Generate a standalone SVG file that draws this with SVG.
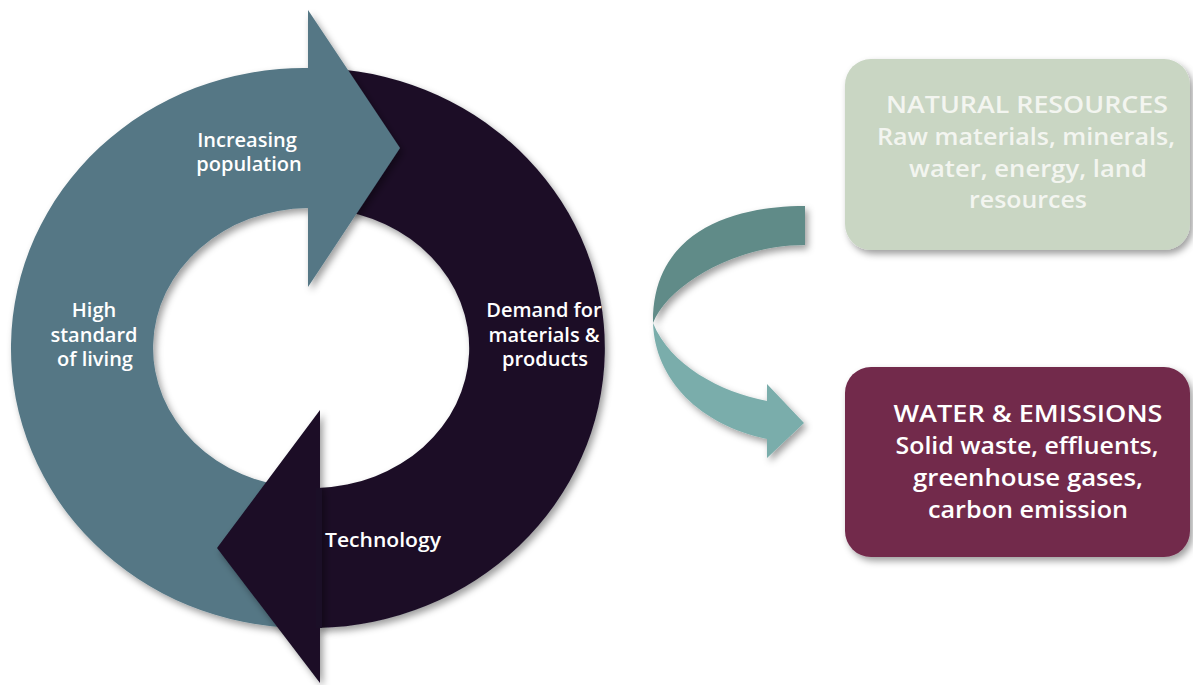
<svg xmlns="http://www.w3.org/2000/svg" width="1193" height="685" viewBox="0 0 1193 685">
<defs>
  <filter id="sh" x="-10%" y="-10%" width="125%" height="125%">
    <feDropShadow dx="3" dy="4" stdDeviation="3.5" flood-color="#000" flood-opacity="0.38"/>
  </filter>
  <style>
    .lbl{font-family:"Open Sans","Liberation Sans",sans-serif;font-weight:600;font-size:20px;fill:#ffffff;text-anchor:middle}
    .box{font-family:"Open Sans","Liberation Sans",sans-serif;font-size:24px;font-weight:600;text-anchor:middle}
    .teal{fill:#547785}
    .dark{fill:#1b0f27}
  </style>
</defs>
<rect width="1193" height="685" fill="#ffffff"/>

<g id="cycle">
  <g id="demand-band">
    <path class="dark" filter="url(#sh)" d="M 330 68.6 A 293 280 0 0 1 318 628 L 318 488 A 157 140 0 0 0 330 209 Z"/>
  </g>
  <g id="increasing-population">
    <path class="teal" filter="url(#sh)" d="M 308 68 A 293 280 0 0 0 300 628 L 300 487.7 A 157 140 0 0 1 308 208 L 308 287 L 400 148 L 308 10 Z"/>
    <text class="lbl" x="247" y="147">Increasing</text>
    <text class="lbl" x="249" y="171">population</text>
  </g>
  <g id="high-standard-of-living">
    <text class="lbl" x="94" y="317">High</text>
    <text class="lbl" x="94" y="342">standard</text>
    <text class="lbl" x="95" y="366">of living</text>
  </g>
  <g id="technology">
    <path class="dark" filter="url(#sh)" d="M 322 627.9 L 320 627.9 L 320 683 L 217 548 L 320 410 L 320 487.9 L 322 487.9 Z"/>
    <path class="dark" d="M 316 628 L 322 628 L 322 487.9 L 316 488 Z"/>
    <text class="lbl" x="383" y="547" textLength="116" lengthAdjust="spacingAndGlyphs">Technology</text>
  </g>
  <g id="demand-for-materials">
    <text class="lbl" x="544" y="317">Demand for</text>
    <text class="lbl" x="544" y="342">materials &amp;</text>
    <text class="lbl" x="545" y="366">products</text>
  </g>
</g>

<g id="connectors">
  <path filter="url(#sh)" fill="#608b88" d="M 805 206 C 735 206 652 230 653 323 C 668 285 735 245 805 245 Z"/>
  <path filter="url(#sh)" fill="#7aadab" d="M 653 323 C 655 380 700 425 767 439 L 767 458 L 804 423 L 767 384 L 767 401 C 720 392 670 365 653 323 Z"/>
</g>

<g id="natural-resources">
  <rect x="845" y="59" width="345" height="191" rx="26" fill="#c9d6c3" filter="url(#sh)"/>
  <text class="box" fill="#f3f5f0" font-weight="500" x="1027" y="113" textLength="282" lengthAdjust="spacingAndGlyphs">NATURAL RESOURCES</text>
  <text class="box" fill="#f3f5f0" x="1026" y="144.5" textLength="298" lengthAdjust="spacingAndGlyphs">Raw materials, minerals,</text>
  <text class="box" fill="#f3f5f0" x="1028" y="176.5" textLength="238" lengthAdjust="spacingAndGlyphs">water, energy, land</text>
  <text class="box" fill="#f3f5f0" x="1028" y="208" textLength="118" lengthAdjust="spacingAndGlyphs">resources</text>
</g>

<g id="water-emissions">
  <rect x="845" y="367" width="345" height="190" rx="26" fill="#722a4b" filter="url(#sh)"/>
  <text class="box" fill="#ffffff" x="1028" y="422" textLength="269" lengthAdjust="spacingAndGlyphs">WATER &amp; EMISSIONS</text>
  <text class="box" fill="#ffffff" x="1027" y="454" textLength="263" lengthAdjust="spacingAndGlyphs">Solid waste, effluents,</text>
  <text class="box" fill="#ffffff" x="1028" y="486" textLength="230" lengthAdjust="spacingAndGlyphs">greenhouse gases,</text>
  <text class="box" fill="#ffffff" x="1028" y="518" textLength="200" lengthAdjust="spacingAndGlyphs">carbon emission</text>
</g>
</svg>
